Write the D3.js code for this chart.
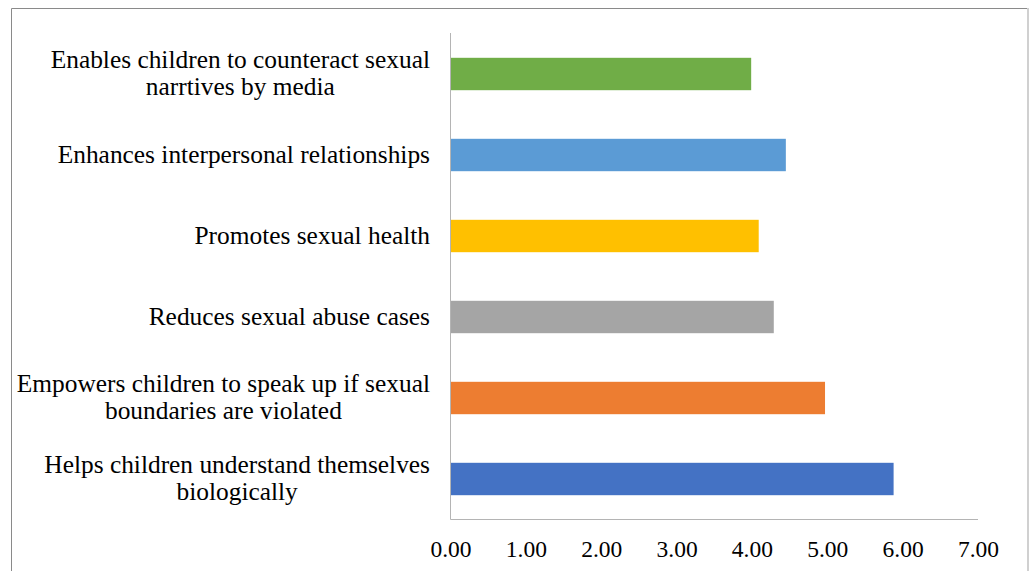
<!DOCTYPE html>
<html>
<head>
<meta charset="utf-8">
<script src="https://cdn.jsdelivr.net/npm/d3@7"></script>
<style>
  html, body { margin: 0; padding: 0; background: #fff; }
  svg { display: block; }
  svg text { font-family: "Liberation Serif", "Times New Roman", Tinos, "DejaVu Serif", serif; }
</style>
</head>
<body>
<svg id="chart" width="1030" height="571"></svg>
<script>
// ---- data (top to bottom as drawn) ----
const categories = [
  "Enables children to counteract sexual\nnarrtives by media",
  "Enhances interpersonal relationships",
  "Promotes sexual health",
  "Reduces sexual abuse cases",
  "Empowers children to speak up if sexual\nboundaries are violated",
  "Helps children understand themselves\nbiologically"
];
const values = [3.99, 4.45, 4.09, 4.29, 4.97, 5.88];
const colors = ["#70AD47", "#5B9BD5", "#FFC000", "#A5A5A5", "#ED7D31", "#4472C4"];
const tickValues = [0, 1, 2, 3, 4, 5, 6, 7];

const svg = d3.select("#chart");

// chart border
svg.append("line").attr("x1", 11.5).attr("y1", 8.5).attr("x2", 1028).attr("y2", 8.5)
  .attr("stroke", "#8a8a8a").attr("stroke-width", 1);
svg.append("line").attr("x1", 11.5).attr("y1", 8.5).attr("x2", 11.5).attr("y2", 571)
  .attr("stroke", "#8a8a8a").attr("stroke-width", 1);
svg.append("line").attr("x1", 1028).attr("y1", 8).attr("x2", 1028).attr("y2", 571)
  .attr("stroke", "#d0d0d0").attr("stroke-width", 2);

const x = d3.scaleLinear().domain([0, 7]).range([450.5, 978]);
const y = d3.scaleBand().domain(categories).range([33.5, 519.5]).paddingInner(0.6).paddingOuter(0.3);

// bars
svg.append("g").selectAll("rect")
  .data(categories)
  .join("rect")
  .attr("x", x(0))
  .attr("y", d => y(d))
  .attr("width", (d, i) => x(values[i]) - x(0))
  .attr("height", y.bandwidth())
  .attr("fill", (d, i) => colors[i]);

// axes lines
svg.append("line").attr("x1", x(0)).attr("x2", x(0)).attr("y1", 33).attr("y2", 519.5)
  .attr("stroke", "#b4b4b4").attr("stroke-width", 1);
svg.append("line").attr("x1", x(0)).attr("x2", x(7)).attr("y1", 519.5).attr("y2", 519.5)
  .attr("stroke", "#b4b4b4").attr("stroke-width", 1);

// x tick labels via axis
const xAxis = d3.axisBottom(x).tickValues(tickValues).tickFormat(d3.format(".2f")).tickSize(0).tickPadding(0);
const gx = svg.append("g").attr("transform", "translate(0,519.5)").call(xAxis);
gx.select(".domain").remove();
gx.attr("font-family", null);
gx.selectAll("text")
  .attr("font-size", 23.5).attr("fill", "#000")
  .attr("dy", null).attr("y", 37.8);

// category labels
const labelRight = 430;
const lineH = 26.7;
const lg = svg.append("g");
categories.forEach((c, i) => {
  const lines = c.split("\n");
  const cy = y(c) + y.bandwidth() / 2;
  const t = lg.append("text")
    .attr("font-size", 25.4).attr("fill", "#000")
    .attr("text-anchor", "middle");
  const spans = lines.map((ln, k) => t.append("tspan").text(ln)
    .attr("y", cy + 7.5 + (k - (lines.length - 1) / 2) * lineH));
  const maxW = d3.max(spans, s => s.node().getComputedTextLength());
  spans.forEach(s => s.attr("x", labelRight - maxW / 2));
});
</script>
</body>
</html>
